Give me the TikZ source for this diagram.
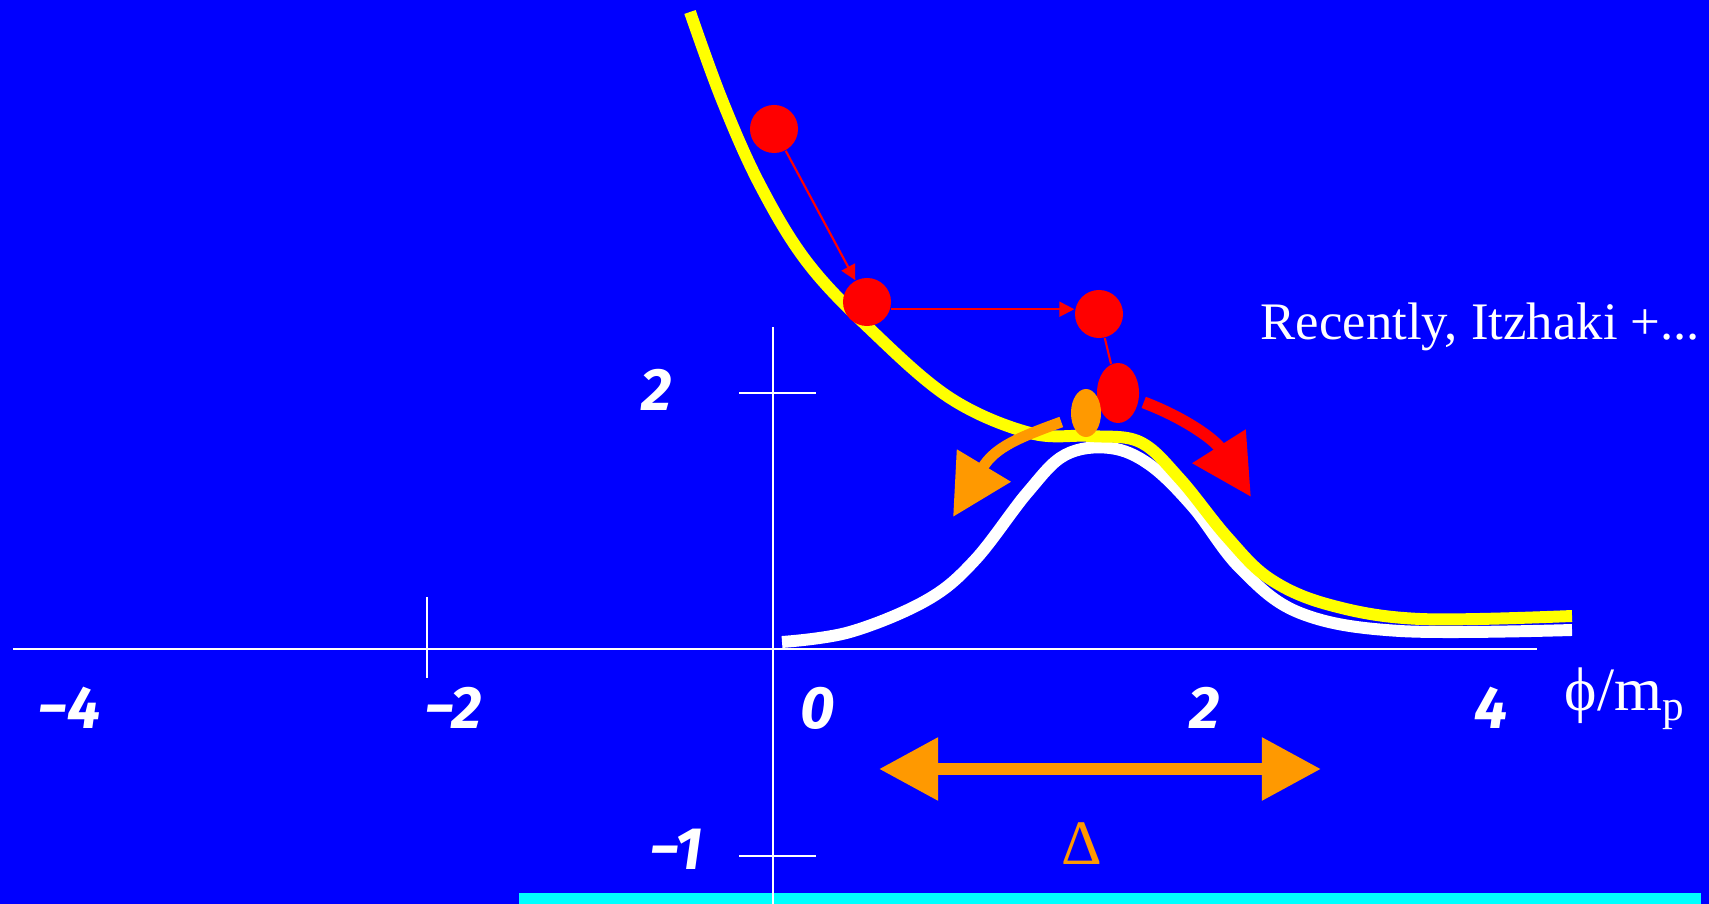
\documentclass[tikz,border=0pt]{standalone}
\usepackage{fontspec}
\setmainfont{Liberation Serif}
\newfontfamily\numfont{Fira Sans}
\usetikzlibrary{arrows.meta, shapes.geometric}

\begin{document}
\begin{tikzpicture}[x=0.01cm, y=-0.01cm]
    % Define colours
    \definecolor{bgColour}{HTML}{0000FF}
    \definecolor{ballColour}{HTML}{FF0000}
    \definecolor{orangeColour}{HTML}{FF9900}
    \definecolor{curveColour}{HTML}{FFFF00}
    \definecolor{barColour}{HTML}{00FFFF}

    \tikzset{
        ball/.style={circle, fill=ballColour, inner sep=0pt, minimum size=0.48cm},
        axisLine/.style={white, line width=0.6pt},
        numLabel/.style={text=white, font=\numfont\bfseries\itshape\fontsize{17}{20}\selectfont},
        thinArrow/.style={ballColour, line width=0.6pt, -{Triangle[length=0.15cm, width=0.15cm]}},
        bigTip/.style={-{Triangle[length=0.6cm, width=0.6cm]}}
    }

    % Background
    \fill[bgColour] (0,0) rectangle (1709,904);
    \useasboundingbox (0,0) rectangle (1709,904);

    % Cyan bar at the bottom
    \fill[barColour] (519,893) rectangle (1701,904);

    % Draw axes
    \draw[axisLine] (13,649) -- (1537,649);
    \draw[axisLine] (773,327) -- (773,904);

    % Draw ticks
    \draw[axisLine] (739,393) -- (816,393);
    \draw[axisLine] (739,856) -- (816,856);
    \draw[axisLine] (427,597) -- (427,678);

    % Label x-axis and y-axis
    \foreach \x/\lab in {69/−4, 453/−2, 818/0, 1205/2, 1491/4}
        \node[numLabel] (xl\x) at (\x,708) {\lab};
    \node[numLabel] (ylTwo) at (657,390) {2};
    \node[numLabel] (ylMinusOne) at (676,849) {−1};

    % Draw the two potentials
    \draw[white, line width=3.4pt] plot[smooth, tension=0.6] coordinates {
        (782,642) (850,632) (927,600) (975,560) (1027,493) (1065,455)
        (1110,448) (1150,465) (1193,507) (1240,568) (1300,613) (1400,631)
        (1572,630)};
    \draw[curveColour, line width=3.4pt] plot[smooth, tension=0.6] coordinates {
        (690,12) (722,100) (760,185) (807,262) (870,329) (950,398)
        (1030,433) (1090,436) (1140,442) (1180,479) (1227,537) (1270,579)
        (1330,605) (1420,619) (1572,616)};

    % Balls rolling down
    \node[ball] (b1) at (774,129) {};
    \node[ball] (b2) at (867,302) {};
    \node[ball] (b3) at (1099,314) {};
    \node[ellipse, fill=ballColour, inner sep=0pt, minimum width=0.42cm, minimum height=0.60cm] (b4) at (1118,393) {};
    \node[ellipse, fill=orangeColour, inner sep=0pt, minimum width=0.30cm, minimum height=0.48cm] (o1) at (1086,413) {};

    \draw[thinArrow] (b1) -- (b2);
    \draw[thinArrow] (b2.-17) -- (b3.west |- b2.-17);
    \draw[ballColour, line width=0.6pt] (b3) -- (b4);

    % Big curved arrows
    \coordinate (redTip) at (1251,497);
    \coordinate (orangeTip) at (953,517);
    \draw[ballColour, line width=3.4pt, bigTip, shorten <=0.05cm]
        (b4.-20) .. controls (1185,418) and (1215,440) .. (redTip);
    \draw[orangeColour, line width=3.1pt, bigTip, shorten <=0.1cm]
        (o1.200) .. controls (1020,437) and (995,447) .. (orangeTip);

    % Width of the barrier
    \coordinate (deltaLeft) at (879,769);
    \coordinate (deltaRight) at (1321,769);
    \draw[orangeColour, line width=3.4pt, {Triangle[length=0.59cm, width=0.6cm]}-{Triangle[length=0.59cm, width=0.6cm]}]
        (deltaLeft) -- (deltaRight);
    \node[text=orangeColour, font=\fontsize{18}{20}\selectfont] (deltaLabel) at (1082,844) {Δ};

    % Texts
    \node[anchor=base west, inner sep=0pt, text=white, font=\fontsize{15}{18}\selectfont] (note) at (1260,340) {Recently, Itzhaki +...};
    \node[anchor=base west, inner sep=0pt, text=white, font=\fontsize{17.5}{20}\selectfont] (axisName) at (1564,711) {ϕ/m\textsubscript{p}};
\end{tikzpicture}
\end{document}
